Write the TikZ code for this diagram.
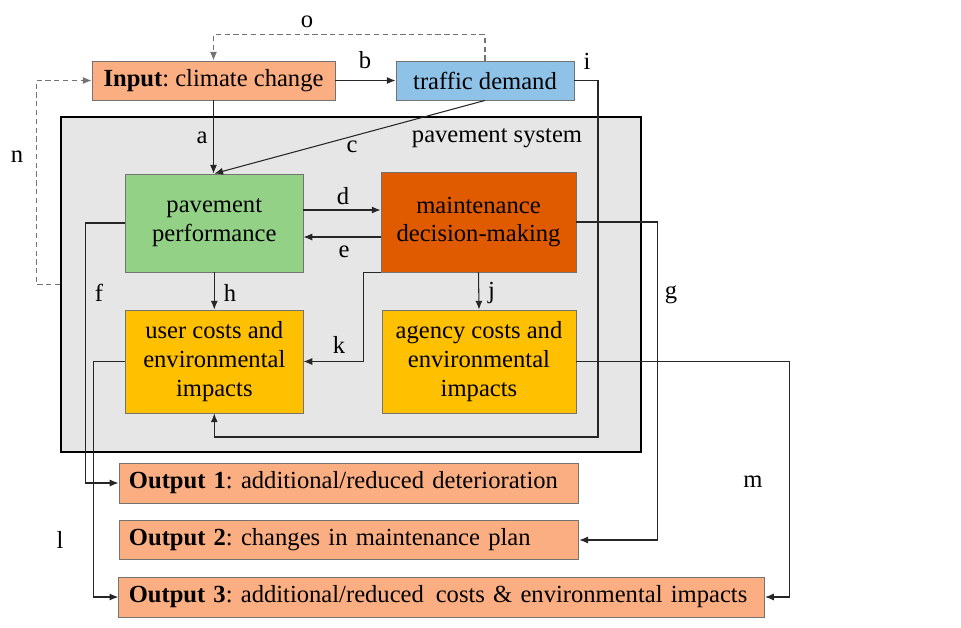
\documentclass[tikz,border=0pt]{standalone}
\usepackage{fontspec}
\setmainfont{Liberation Serif}
\usetikzlibrary{calc,arrows.meta}
\definecolor{salmon}{HTML}{FBAE82}
\definecolor{skyblue}{HTML}{8EC3E7}
\definecolor{leafgreen}{HTML}{93D186}
\definecolor{burnt}{HTML}{E05A00}
\definecolor{amber}{HTML}{FFC000}
\definecolor{sysgray}{HTML}{E6E6E6}
\newcommand\boxfont{\fontsize{14}{16.5}\selectfont\frenchspacing}
\tikzset{
	box/.style={draw=black!55, line width=0.5pt, inner sep=0pt, align=center, font=\boxfont},
	outbox/.style={box, fill=salmon, align=left, inner xsep=0.2cm, minimum height=0.8cm},
	conn/.style={draw=black!85, line width=0.6pt, -{Latex[length=5pt, width=4pt]}},
	dashconn/.style={conn, draw=black!55, dash pattern=on 3pt off 2pt},
	lbl/.style={font=\boxfont, inner sep=0pt}
}

\begin{document}
\begin{tikzpicture}[x=0.02cm, y=-0.02cm]
		%%%%% START %%%%%
		\useasboundingbox (0, 0) rectangle (961, 627);
		
		\node[draw=black, line width=1pt, fill=sysgray, minimum width=11.6cm, minimum height=6.7cm] (system) at (351, 284.5) {};
		\node[lbl] (lsys) at (497, 138) {pavement system};
		
		\node[box, fill=salmon, minimum width=4.86cm, minimum height=0.78cm] (inp) at (213.5, 80.5) {\textbf{Input}: climate change};
		\node[box, fill=skyblue, minimum width=3.56cm, minimum height=0.78cm] (traffic) at (485, 80.5) {traffic demand};
		
		\node[box, fill=leafgreen, minimum width=3.55cm, minimum height=1.96cm] (perf) at (214.3, 223) {pavement\\performance};
		\node[box, fill=burnt, minimum width=3.9cm, minimum height=2cm] (maint) at (478.5, 222) {maintenance\\decision-making};
		\node[box, fill=amber, minimum width=3.55cm, minimum height=2.06cm] (user) at (214.3, 361.5) {user costs and\\environmental\\impacts};
		\node[box, fill=amber, minimum width=3.88cm, minimum height=2.06cm] (agency) at (479, 361.5) {agency costs and\\environmental\\impacts};
		
		\node[outbox, text width=8.8cm] (out1) at (348.9, 483) {\textbf{Output 1}: additional/reduced deterioration};
		\node[outbox, text width=8.8cm, minimum height=0.78cm] (out2) at (348.9, 540) {\textbf{Output 2}: changes in maintenance plan};
		\node[outbox, text width=12.52cm] (out3) at (441.7, 597) {\textbf{Output 3}: additional/reduced\hspace{0.15em} costs \& environmental impacts};
		
		% connectors
		\draw[conn] (inp.south) -- (inp.south |- perf.north);
		\draw[conn] (inp.east) -- (traffic.west);
		\draw[conn] (traffic.south) -- (perf.north);
		\coordinate (d1) at ($(perf.east)+(0, -13)$);
		\draw[conn] (d1) -- (d1 -| maint.west);
		\coordinate (e1) at ($(maint.west)+(0, 15)$);
		\draw[conn] (e1) -- (e1 -| perf.east);
		\draw[conn] (perf.west) -- ++(-39.6, 0) |- (out1.west);
		\draw[conn] (maint.east) -- ++(81, 0) |- (out2.east);
		\draw[conn] (perf.south) -- (user.north);
		\draw[conn] (maint.south) -- (agency.north);
		\coordinate (i1) at (598, 437);
		\draw[conn] (traffic.east) -| (i1) -| (user.south);
		\draw[conn] (maint.south west) -- ++(-17, 0) |- (user.east);
		\draw[conn] (user.west) -- ++(-31.5, 0) |- (out3.west);
		\draw[conn] (agency.east) -- ++(212.7, 0) |- (out3.east);
		\draw[dashconn] (system.west) -- ++(-24, 0) |- (inp.west);
		\draw[dashconn] (traffic.north) -- ++(0, -26) -| (inp.north);
		
		% letters
		\node[lbl] (la) at (202, 138) {a};
		\node[lbl] (lb) at (365, 60) {b};
		\node[lbl] (lc) at (352, 147) {c};
		\node[lbl] (ld) at (343, 196) {d};
		\node[lbl] (le) at (344, 252) {e};
		\node[lbl] (lf) at (99, 293) {f};
		\node[lbl] (lg) at (671, 295) {g};
		\node[lbl] (lh) at (230, 293) {h};
		\node[lbl] (li) at (587, 61) {i};
		\node[lbl] (lj) at (491.6, 293) {j};
		\node[lbl] (lk) at (339, 345) {k};
		\node[lbl] (ll) at (60, 540) {l};
		\node[lbl] (lm) at (753, 482) {m};
		\node[lbl] (ln) at (17, 157) {n};
		\node[lbl] (lo) at (307, 22) {o};
		
		%%%%% END %%%%%
\end{tikzpicture}
\end{document}
